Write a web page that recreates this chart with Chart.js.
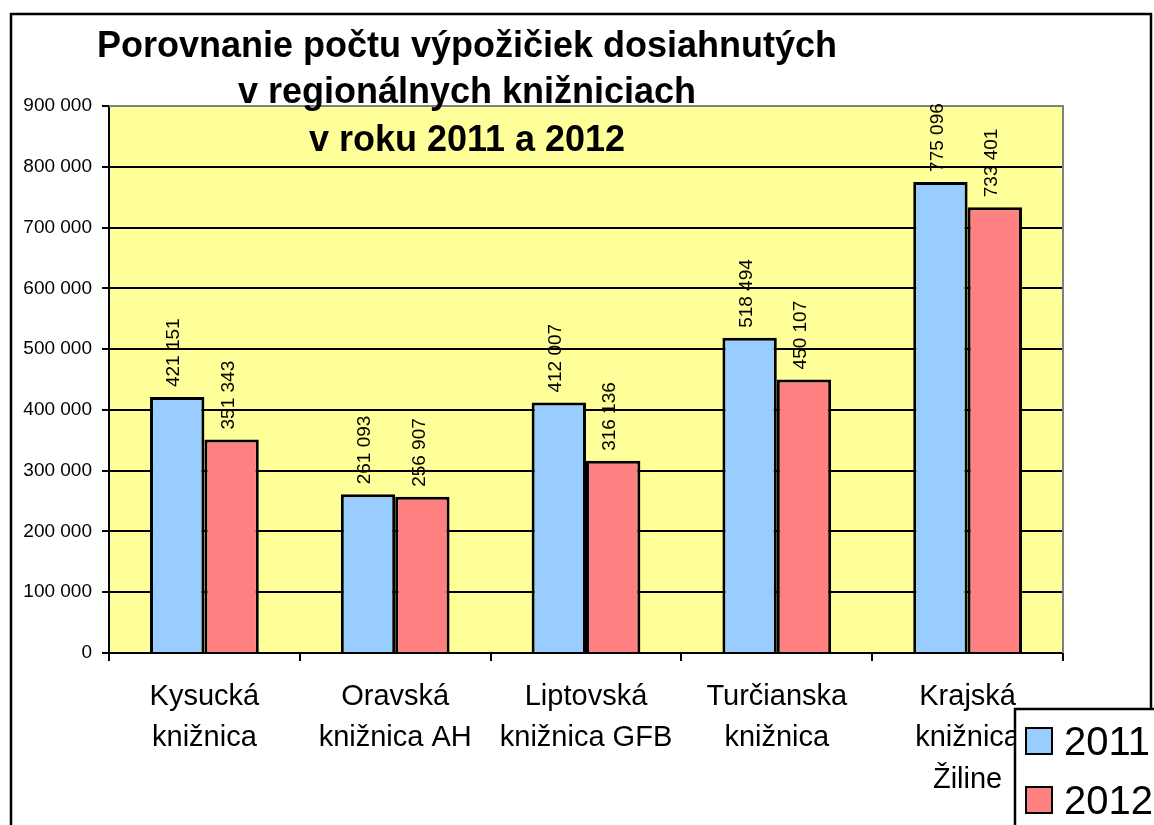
<!DOCTYPE html>
<html>
<head>
<meta charset="utf-8">
<script src="https://cdn.jsdelivr.net/npm/chart.js@4/dist/chart.umd.min.js"></script>
<style>
  body { margin: 0; background: #fff; }
  canvas { display: block; }
</style>
</head>
<body>
<canvas id="chart" width="1154" height="825"></canvas>
<script>
// chart data
const categories = [
    ['Kysucká', 'knižnica'],
    ['Oravská', 'knižnica AH'],
    ['Liptovská', 'knižnica GFB'],
    ['Turčianska', 'knižnica'],
    ['Krajská', 'knižnica', 'Žiline']
];
const seriesNames = ['2011', '2012'];
const values2011 = [421151, 261093, 412007, 518494, 775096];
const values2012 = [351343, 256907, 316136, 450107, 733401];
const yTicks = [0, 100000, 200000, 300000, 400000, 500000, 600000, 700000, 800000, 900000];
const titleLines = [
    'Porovnanie počtu výpožičiek dosiahnutých',
    'v regionálnych knižniciach',
    'v roku 2011 a 2012'
];

const FONT = "'Liberation Sans', Arial, sans-serif";
Chart.defaults.font.family = FONT;
Chart.defaults.color = '#000';

// spaces as thousands separator: 421151 -> "421 151"
function fmt(v) {
    return String(v).replace(/\B(?=(\d{3})+(?!\d))/g, ' ');
}

const frame = {
    id: 'frame',
    beforeDraw(chart) {
        const ctx = chart.ctx, a = chart.chartArea;
        ctx.save();
        ctx.fillStyle = '#fff';
        ctx.fillRect(0, 0, chart.width, chart.height);
        ctx.strokeStyle = '#000';
        ctx.lineWidth = 2.5;
        ctx.strokeRect(11, 14, 1140, 900);
        ctx.fillStyle = '#FFFF99';
        ctx.fillRect(a.left, a.top, a.right - a.left, a.bottom - a.top);
        ctx.restore();
    },
    beforeDatasetsDraw(chart) {
        const ctx = chart.ctx, a = chart.chartArea;
        ctx.save();
        ctx.strokeStyle = '#808080';
        ctx.lineWidth = 2;
        ctx.beginPath();
        ctx.moveTo(a.left, a.top);
        ctx.lineTo(a.right, a.top);
        ctx.lineTo(a.right, a.bottom);
        ctx.stroke();
        ctx.restore();
    }
};

const barLabels = {
    id: 'barLabels',
    afterDatasetsDraw(chart) {
        const ctx = chart.ctx;
        ctx.save();
        ctx.font = '19px ' + FONT;
        ctx.fillStyle = '#000';
        ctx.textAlign = 'left';
        ctx.textBaseline = 'middle';
        chart.data.datasets.forEach((ds, i) => {
            chart.getDatasetMeta(i).data.forEach((bar, j) => {
                ctx.save();
                ctx.translate(bar.x - 3, bar.y - 10);
                ctx.rotate(-Math.PI / 2);
                ctx.fillText(fmt(ds.data[j]), 0, 0);
                ctx.restore();
            });
        });
        ctx.restore();
    }
};

const titleAndLegend = {
    id: 'titleAndLegend',
    afterDraw(chart) {
        const ctx = chart.ctx;
        ctx.save();
        // title
        ctx.font = 'bold 36px ' + FONT;
        ctx.fillStyle = '#000';
        ctx.textAlign = 'center';
        ctx.textBaseline = 'alphabetic';
        const baselines = [57, 103, 151];
        titleLines.forEach((t, i) => ctx.fillText(t, 467, baselines[i]));

        // legend box
        ctx.fillStyle = '#fff';
        ctx.fillRect(1015, 709, 200, 200);
        ctx.strokeStyle = '#000';
        ctx.lineWidth = 2.5;
        ctx.strokeRect(1015, 709, 200, 200);
        ctx.font = '40px ' + FONT;
        ctx.textAlign = 'left';
        chart.data.datasets.forEach((ds, i) => {
            const y = 728 + i * 59;
            ctx.fillStyle = ds.backgroundColor;
            ctx.fillRect(1026, y, 26, 26);
            ctx.lineWidth = 2;
            ctx.strokeStyle = '#000';
            ctx.strokeRect(1026, y, 26, 26);
            ctx.fillStyle = '#000';
            ctx.fillText(ds.label, 1064, y + 27);
        });
        ctx.restore();
    }
};

new Chart(document.getElementById('chart').getContext('2d'), {
    type: 'bar',
    data: {
        labels: categories,
        datasets: [
            {
                label: seriesNames[0],
                data: values2011,
                backgroundColor: '#99CCFF',
                borderColor: '#000',
                borderWidth: 3
            },
            {
                label: seriesNames[1],
                data: values2012,
                backgroundColor: '#FF8080',
                borderColor: '#000',
                borderWidth: 3
            }
        ]
    },
    options: {
        responsive: false,
        animation: false,
        categoryPercentage: 0.57,
        barPercentage: 1,
        layout: {
            padding: { top: 106, right: 91, bottom: 0, left: 0 }
        },
        plugins: {
            legend: { display: false },
            title: { display: false },
            tooltip: { enabled: false }
        },
        scales: {
            x: {
                afterFit(scale) { scale.height = 172; },
                border: { color: '#000', width: 2 },
                grid: {
                    drawOnChartArea: false,
                    color: '#000',
                    lineWidth: 2,
                    tickLength: 8,
                    offset: true
                },
                ticks: {
                    font: { size: 29, lineHeight: 1.43 },
                    color: '#000',
                    padding: 15,
                    maxRotation: 0,
                    autoSkip: false
                }
            },
            y: {
                min: 0,
                max: 900000,
                afterFit(scale) { scale.width = 109; },
                afterBuildTicks(scale) {
                    scale.ticks = yTicks.map(v => ({ value: v }));
                },
                border: { color: '#000', width: 2 },
                grid: {
                    color: '#000',
                    lineWidth: 2,
                    tickLength: 7
                },
                ticks: {
                    font: { size: 19 },
                    color: '#000',
                    padding: 10,
                    callback: v => fmt(v)
                }
            }
        }
    },
    plugins: [frame, barLabels, titleAndLegend]
});
</script>
</body>
</html>
